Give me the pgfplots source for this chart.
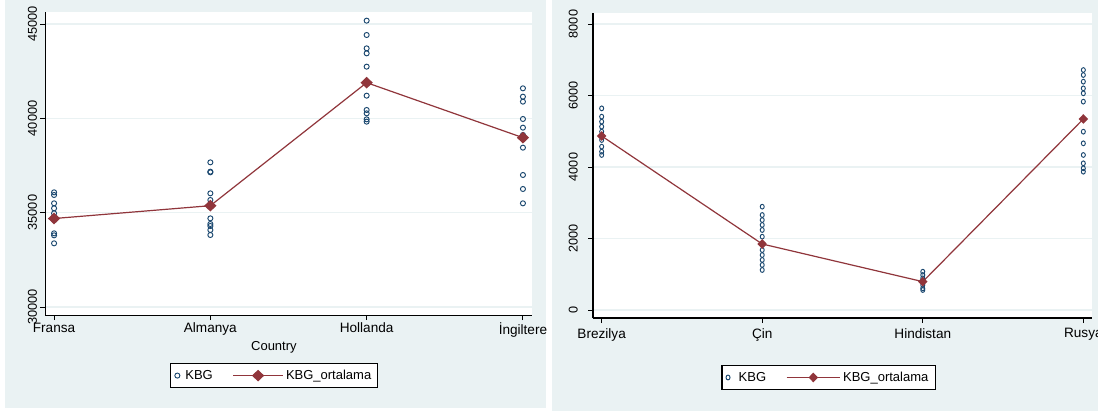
\documentclass[border=0pt]{standalone}
\usepackage{fontspec}
\setmainfont{Liberation Sans}
\usepackage{pgfplots}
\pgfplotsset{compat=1.18}
\definecolor{stbg}{HTML}{EAF2F3}
\definecolor{stnavy}{HTML}{1A476F}
\definecolor{stmaroon}{HTML}{90353B}

\pgfplotsset{
  scatleg/.style={legend image code/.code={\draw[##1] plot coordinates {(0pt,0pt)};\path[draw=none,fill=none] (-1pt,0pt) (#1,0pt);}},
  lineleg/.style={legend image code/.code={\draw[##1, mark repeat=2, mark phase=2] plot coordinates {(0cm,0cm)(#1/2,0cm)(#1,0cm)};}},
}

\pgfplotsset{statastyle/.style={
  scale only axis,
  axis background/.style={fill=white},
  axis x line*=bottom, axis y line*=left,
  axis line style={black, line width=0.7pt},
  ymajorgrids, grid style={stbg, line width=0.9pt},
  tick align=outside, major tick length=3.75pt,
  tick style={black, line width=0.7pt},
  xtick={0,1,2,3},
  scaled y ticks=false,
  /pgf/number format/assume math mode=true,
  /pgf/number format/1000 sep={},
  yticklabel style={rotate=90, anchor=south, inner sep=2pt},
  xticklabel style={inner sep=2pt},
  clip=false,
  legend columns=2,
  legend cell align=left,
  legend style={draw=black, fill=white, line width=0.8pt, font=\fontsize{9.75pt}{11pt}\selectfont,
    inner xsep=3pt, inner ysep=2.5pt,
    /tikz/every even column/.append style={column sep=13pt}},
}}

\pgfplotstableread{
x y
0 36079
0 35937
0 35496
0 35230
0 34965
0 34788
0 34612
0 33905
0 33799
0 33375
1 37668
1 37174
1 37138
1 36025
1 35672
1 34700
1 34400
1 34294
1 34082
1 33817
2 45177
2 44417
2 43710
2 43445
2 42739
2 41201
2 40442
2 40265
2 39947
2 39824
3 41591
3 41148
3 40884
3 39965
3 39506
3 39117
3 38446
3 36997
3 36255
3 35496
}\leftdata

\pgfplotstableread{
x y
0 34690
1 35370
2 41890
3 38975
}\leftmean

\pgfplotstableread{
x y
0 5640
0 5408
0 5268
0 5128
0 4988
0 4755
0 4569
0 4429
0 4336
1 2890
1 2657
1 2517
1 2378
1 2238
1 2051
1 1678
1 1538
1 1399
1 1259
1 1119
2 1072
2 979
2 886
2 699
2 606
2 559
3 6713
3 6573
3 6387
3 6200
3 6061
3 5828
3 4988
3 4662
3 4336
3 4103
3 3963
3 3869
}\rightdata

\pgfplotstableread{
x y
0 4867
1 1846
2 793
3 5343
}\rightmean

\begin{document}
\begin{tikzpicture}
\fill[stbg] (3.75pt,2.25pt) rectangle (409.5pt,308.25pt);
\fill[stbg] (414pt,0pt) rectangle (823.5pt,308.25pt);
\begin{scope}
\clip (0pt,0pt) rectangle (823.5pt,308.25pt);
% Left panel
\begin{axis}[statastyle,
  at={(33.75pt,72pt)}, anchor=south west,
  width=365.25pt, height=227.25pt,
  xmin=-0.058, xmax=3.058,
  ymin=29576, ymax=45636,
  ytick={30000,35000,40000,45000},
  xticklabels={Fransa,Almanya,Hollanda,İngiltere},
  xticklabel style={font=\fontsize{10.2pt}{12pt}\selectfont},
  yticklabel style={font=\fontsize{9.6pt}{11pt}\selectfont},
  xlabel={Country},
  xlabel style={font=\fontsize{9.75pt}{11pt}\selectfont, at={(axis description cs:0.47,-0.105)}, anchor=center},
  legend style={at={(0.471,-0.2)}, anchor=center},
]
\addplot[only marks, mark=o, mark size=1.9pt, mark options={stnavy, line width=0.7pt}, scatleg=4pt]
  table[x=x,y=y]{\leftdata};
\addlegendentry{KBG}
\addplot[stmaroon, line width=0.9pt, mark=diamond*, mark size=3.75pt,
  mark options={xscale=1.4, fill=stmaroon, draw=stmaroon}, lineleg=1.3cm]
  table[x=x,y=y]{\leftmean};
\addlegendentry{KBG\_ortalama}
\end{axis}
% Right panel
\begin{axis}[statastyle,
  at={(444.75pt,69.75pt)}, anchor=south west,
  width=374.25pt, height=228.75pt,
  xmin=-0.054, xmax=3.054,
  ymin=-224, ymax=8308,
  ytick={0,2000,4000,6000,8000},
  axis line style={black, line width=1.3pt},
  xticklabels={Brezilya,Çin,Hindistan,Rusya},
  xticklabel style={font=\fontsize{10.2pt}{12pt}\selectfont, yshift=-2pt},
  yticklabel style={font=\fontsize{9.5pt}{11pt}\selectfont, yshift=5.5pt},
  legend style={at={(0.472,-0.195)}, anchor=center},
]
\addplot[only marks, mark=o, mark size=1.5pt, mark options={stnavy, line width=0.7pt, yscale=1.2}, scatleg=6pt]
  table[x=x,y=y]{\rightdata};
\addlegendentry{KBG}
\addplot[stmaroon, line width=0.9pt, mark=diamond*, mark size=3pt,
  mark options={xscale=1.3, fill=stmaroon, draw=stmaroon}, lineleg=1.4cm]
  table[x=x,y=y]{\rightmean};
\addlegendentry{KBG\_ortalama}
\end{axis}
\end{scope}
\pgfresetboundingbox
\useasboundingbox (0pt,0pt) rectangle (823.5pt,308.25pt);
\end{tikzpicture}
\end{document}
